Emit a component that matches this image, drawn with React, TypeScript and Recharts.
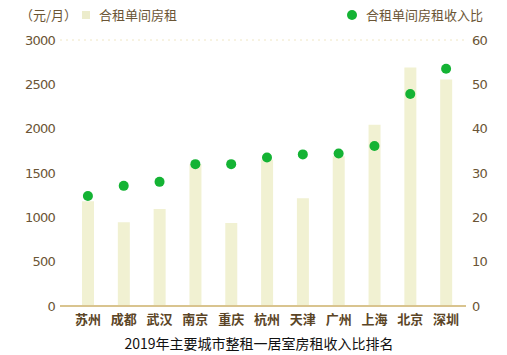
import {
  ComposedChart,
  Bar,
  Scatter,
  XAxis,
  YAxis,
  CartesianGrid,
} from "recharts";

const cities = ["苏州", "成都", "武汉", "南京", "重庆", "杭州", "天津", "广州", "上海", "北京", "深圳"];
const rent = [1180, 945, 1095, 1600, 935, 1650, 1215, 1690, 2045, 2690, 2555];
const ratio = [24.8, 27.1, 28.0, 32.0, 32.0, 33.5, 34.2, 34.4, 36.1, 47.8, 53.5];
const leftTicks = [0, 500, 1000, 1500, 2000, 2500, 3000];
const rightTicks = [0, 10, 20, 30, 40, 50, 60];

const data = cities.map((city, i) => ({ city, rent: rent[i], ratio: ratio[i] }));

const tickColor = "#6b5535";
const numFont = "'DejaVu Sans', sans-serif";

export default function App() {
  return (
    <div style={{ position: "absolute", left: 0, top: 0, width: 507, height: 355, background: "#fff", fontFamily: "'Noto Sans CJK SC', sans-serif" }}>
      <div style={{ position: "absolute", left: 20, top: 5, fontSize: 13, color: tickColor }}>（元/月）</div>
      <div style={{ position: "absolute", left: 82, top: 11, width: 8, height: 8, background: "#ececcc" }} />
      <div style={{ position: "absolute", left: 99, top: 5, fontSize: 13, color: tickColor }}>合租单间房租</div>
      <div style={{ position: "absolute", left: 347, top: 10, width: 10, height: 10, borderRadius: 5, background: "#14b334" }} />
      <div style={{ position: "absolute", left: 366, top: 5, fontSize: 13, color: tickColor }}>合租单间房租收入比</div>

      <ComposedChart
        width={507}
        height={335}
        data={data}
        margin={{ top: 40, right: 6, left: 10, bottom: 4 }}
      >
        <CartesianGrid vertical={false} stroke="#efe6c4" strokeDasharray="2 4" />
        <XAxis
          dataKey="city"
          height={25}
          padding={{ left: 10, right: 2 }}
          tickLine={false}
          axisLine={{ stroke: "#d9c48f", strokeWidth: 2 }}
          tick={{ fill: "#5b4526", fontSize: 13, fontWeight: 700 }}
          tickMargin={3}
          interval={0}
        />
        <YAxis
          yAxisId="left"
          width={50}
          domain={[0, 3000]}
          ticks={leftTicks}
          tickLine={false}
          axisLine={false}
          tickSize={0}
          tickMargin={5}
          tick={{ fill: tickColor, fontSize: 13, fontFamily: numFont, letterSpacing: -0.8 }}
        />
        <YAxis
          yAxisId="right"
          orientation="right"
          width={35}
          domain={[0, 60]}
          ticks={rightTicks}
          tickLine={false}
          axisLine={false}
          tickSize={0}
          tickMargin={6}
          tick={{ fill: tickColor, fontSize: 13, fontFamily: numFont, letterSpacing: -0.8 }}
        />
        <Bar yAxisId="left" dataKey="rent" fill="#f1f1d2" barSize={12} isAnimationActive={false} />
        <Scatter
          yAxisId="right"
          dataKey="ratio"
          fill="#14b334"
          isAnimationActive={false}
          shape={(p: any) => <circle cx={p.cx} cy={p.cy} r={5} fill="#14b334" />}
        />
      </ComposedChart>

      <div style={{ position: "absolute", left: 0, width: 518, top: 333, textAlign: "center", fontSize: 14, color: "#111", fontFamily: "'Noto Sans CJK SC', serif" }}>
        2019年主要城市整租一居室房租收入比排名
      </div>
    </div>
  );
}
